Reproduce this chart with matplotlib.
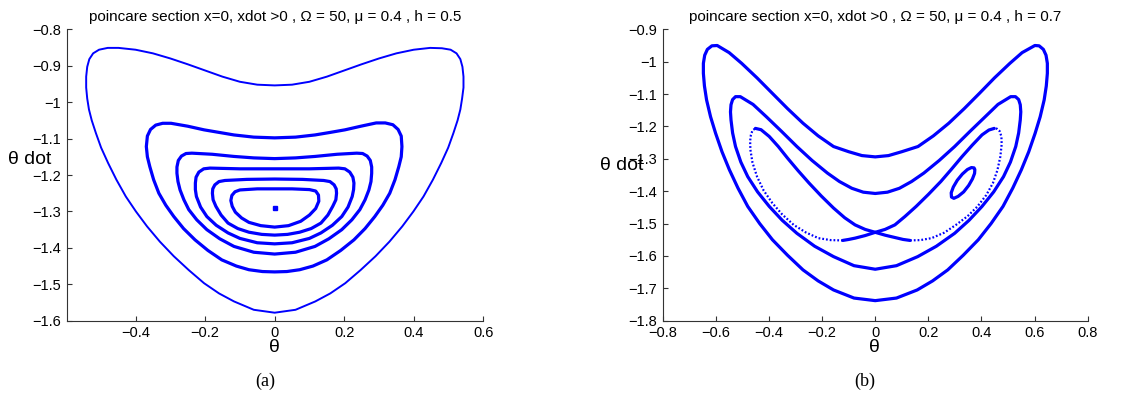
import matplotlib
matplotlib.use("Agg")
import matplotlib.pyplot as plt
from matplotlib.patches import Polygon

# ----------------------------- DATA -------------------
# (a) h = 0.5 : nested closed orbits, outermost first, each listed round the loop
a1_x = [0, -0.05, -0.10, -0.15, -0.20, -0.25, -0.30, -0.35, -0.40, -0.449, -0.48, -0.505, -0.522,
        -0.533, -0.539, -0.542, -0.542, -0.539, -0.534, -0.526, -0.514, -0.499, -0.479, -0.455,
        -0.428, -0.399, -0.367, -0.330, -0.290, -0.247, -0.203, -0.160, -0.117, -0.060, 0,
        0.060, 0.117, 0.160, 0.203, 0.247, 0.290, 0.330, 0.367, 0.399, 0.428, 0.455, 0.479, 0.499,
        0.514, 0.526, 0.534, 0.539, 0.543, 0.543, 0.540, 0.534, 0.523, 0.506, 0.481, 0.447, 0.40,
        0.35, 0.30, 0.25, 0.20, 0.15, 0.10, 0.05]
a1_y = [-0.954, -0.952, -0.944, -0.930, -0.913, -0.896, -0.880, -0.866, -0.856, -0.851, -0.851, -0.856,
        -0.866, -0.882, -0.903, -0.930, -0.960, -0.990, -1.020, -1.050, -1.085, -1.125, -1.167, -1.213,
        -1.259, -1.300, -1.341, -1.383, -1.423, -1.461, -1.497, -1.525, -1.547, -1.570, -1.578,
        -1.570, -1.547, -1.525, -1.497, -1.461, -1.423, -1.383, -1.341, -1.300, -1.259, -1.213, -1.167, -1.125,
        -1.085, -1.050, -1.020, -0.990, -0.960, -0.930, -0.903, -0.882, -0.866, -0.856, -0.852, -0.851, -0.856,
        -0.866, -0.880, -0.896, -0.913, -0.930, -0.944, -0.952]

a2_x = [0, -0.06, -0.117, -0.16, -0.203, -0.25, -0.298, -0.322, -0.342, -0.357, -0.366, -0.369, -0.366,
        -0.359, -0.348, -0.333, -0.313, -0.290, -0.262, -0.229, -0.192, -0.152, -0.110, -0.074, -0.035, 0,
        0.035, 0.072, 0.110, 0.150, 0.190, 0.228, 0.260, 0.288, 0.311, 0.331, 0.346, 0.357, 0.364, 0.366,
        0.364, 0.355, 0.340, 0.318, 0.292, 0.248, 0.202, 0.160, 0.116, 0.06]
a2_y = [-1.098, -1.096, -1.090, -1.083, -1.076, -1.066, -1.058, -1.058, -1.063, -1.075, -1.093, -1.122, -1.150,
        -1.177, -1.213, -1.250, -1.283, -1.314, -1.347, -1.378, -1.407, -1.433, -1.450, -1.460, -1.465, -1.466,
        -1.465, -1.460, -1.450, -1.433, -1.407, -1.378, -1.347, -1.314, -1.283, -1.250, -1.213, -1.177, -1.150, -1.122,
        -1.093, -1.075, -1.062, -1.057, -1.057, -1.066, -1.076, -1.083, -1.090, -1.096]

a3_x = [0, -0.06, -0.117, -0.18, -0.238, -0.255, -0.268, -0.277, -0.281, -0.281, -0.278, -0.272, -0.261,
        -0.247, -0.224, -0.195, -0.158, -0.117, -0.060, 0, 0.060, 0.116, 0.156, 0.193, 0.222, 0.245,
        0.260, 0.271, 0.277, 0.279, 0.279, 0.275, 0.266, 0.253, 0.236, 0.18, 0.116, 0.06]
a3_y = [-1.155, -1.153, -1.149, -1.143, -1.140, -1.141, -1.148, -1.160, -1.178, -1.195, -1.218, -1.241, -1.268,
        -1.295, -1.323, -1.350, -1.375, -1.396, -1.412, -1.417, -1.412, -1.396, -1.375, -1.350, -1.323, -1.295,
        -1.268, -1.241, -1.218, -1.195, -1.178, -1.160, -1.148, -1.141, -1.140, -1.143, -1.149, -1.153]

a4_x = [0, -0.10, -0.186, -0.204, -0.218, -0.226, -0.228, -0.228, -0.225, -0.213, -0.195, -0.168, -0.134,
        -0.100, -0.050, 0, 0.050, 0.100, 0.133, 0.166, 0.193, 0.211, 0.223, 0.227, 0.228, 0.225, 0.216,
        0.202, 0.184, 0.10]
a4_y = [-1.183, -1.183, -1.181, -1.183, -1.192, -1.206, -1.222, -1.240, -1.259, -1.288, -1.314, -1.338, -1.359,
        -1.374, -1.386, -1.389, -1.386, -1.374, -1.359, -1.338, -1.314, -1.288, -1.259, -1.240, -1.222, -1.206, -1.192,
        -1.183, -1.181, -1.183]

a5_x = [0, -0.08, -0.143, -0.160, -0.172, -0.178, -0.179, -0.177, -0.169, -0.154, -0.134, -0.106, -0.074,
        -0.037, 0, 0.037, 0.072, 0.105, 0.133, 0.153, 0.167, 0.176, 0.178, 0.177, 0.171, 0.159, 0.141, 0.08]
a5_y = [-1.211, -1.212, -1.215, -1.218, -1.227, -1.238, -1.250, -1.268, -1.286, -1.310, -1.332, -1.347, -1.357,
        -1.363, -1.365, -1.363, -1.357, -1.347, -1.332, -1.310, -1.286, -1.268, -1.250, -1.238, -1.227, -1.218,
        -1.215, -1.212]

a6_x = [0, -0.05, -0.100, -0.114, -0.123, -0.126, -0.122, -0.113, -0.095, -0.074, -0.040, 0, 0.040, 0.075,
        0.100, 0.118, 0.127, 0.126, 0.118, 0.100, 0.05]
a6_y = [-1.238, -1.238, -1.241, -1.246, -1.256, -1.270, -1.286, -1.302, -1.318, -1.330, -1.339, -1.343, -1.339,
        -1.327, -1.310, -1.292, -1.272, -1.255, -1.244, -1.240, -1.238]

a_fixed_x = [0]
a_fixed_y = [-1.291]

# (b) h = 0.7
b1_x = [0, -0.05, -0.10, -0.157, -0.215, -0.272, -0.33, -0.387, -0.445, -0.503, -0.55, -0.595, -0.615,
        -0.632, -0.642, -0.647, -0.647, -0.643, -0.635, -0.620, -0.601, -0.577, -0.549, -0.517, -0.480,
        -0.435, -0.387, -0.330, -0.272, -0.215, -0.157, -0.080, 0,
        0.080, 0.158, 0.216, 0.273, 0.331, 0.388, 0.436, 0.481, 0.518, 0.550, 0.578, 0.602, 0.621, 0.636,
        0.644, 0.648, 0.648, 0.643, 0.633, 0.617, 0.601, 0.553, 0.507, 0.449, 0.392, 0.335, 0.277, 0.219,
        0.161, 0.10, 0.05]
b1_y = [-1.294, -1.290, -1.278, -1.262, -1.229, -1.190, -1.145, -1.098, -1.050, -1.005, -0.972, -0.950, -0.951,
        -0.962, -0.980, -1.005, -1.036, -1.075, -1.118, -1.170, -1.221, -1.278, -1.334, -1.390, -1.447,
        -1.500, -1.550, -1.598, -1.643, -1.677, -1.705, -1.730, -1.738,
        -1.730, -1.705, -1.677, -1.643, -1.598, -1.550, -1.500, -1.447, -1.390, -1.334, -1.278, -1.221, -1.170, -1.118,
        -1.075, -1.036, -1.005, -0.980, -0.962, -0.951, -0.950, -0.972, -1.005, -1.050, -1.098, -1.145, -1.190, -1.229,
        -1.262, -1.278, -1.290]

b2_x = [0, -0.045, -0.088, -0.135, -0.180, -0.238, -0.295, -0.353, -0.410, -0.460, -0.508, -0.526, -0.537,
        -0.543, -0.545, -0.543, -0.537, -0.526, -0.506, -0.480, -0.443, -0.399, -0.350, -0.295, -0.228,
        -0.157, -0.080, 0,
        0.080, 0.160, 0.230, 0.299, 0.353, 0.402, 0.446, 0.483, 0.509, 0.529, 0.540, 0.546, 0.548, 0.546,
        0.540, 0.528, 0.510, 0.462, 0.414, 0.357, 0.299, 0.241, 0.183, 0.137, 0.091, 0.046]
b2_y = [-1.407, -1.403, -1.391, -1.370, -1.344, -1.305, -1.262, -1.215, -1.170, -1.132, -1.108, -1.108, -1.117,
        -1.133, -1.155, -1.180, -1.220, -1.262, -1.310, -1.355, -1.402, -1.447, -1.490, -1.530, -1.570,
        -1.602, -1.630, -1.641,
        -1.630, -1.602, -1.570, -1.530, -1.490, -1.447, -1.402, -1.355, -1.310, -1.262, -1.220, -1.180, -1.155, -1.133,
        -1.117, -1.108, -1.108, -1.132, -1.170, -1.215, -1.262, -1.305, -1.344, -1.370, -1.391, -1.403]

# figure-eight orbit: solid crossing branches and the sparse outer arcs
b3_cross1_x = [-0.451, -0.430, -0.399, -0.365, -0.330, -0.290, -0.249, -0.203, -0.157, -0.115, -0.076,
               -0.038, 0, 0.038, 0.074, 0.105, 0.131]
b3_cross1_y = [-1.206, -1.210, -1.231, -1.262, -1.298, -1.337, -1.375, -1.415, -1.452, -1.482, -1.504,
               -1.518, -1.527, -1.536, -1.543, -1.549, -1.552]
b3_right_x = [0.131, 0.170, 0.212, 0.260, 0.304, 0.348, 0.385, 0.418, 0.443, 0.460, 0.471, 0.476, 0.475,
              0.468, 0.458, 0.448]
b3_right_y = [-1.552, -1.551, -1.545, -1.528, -1.504, -1.477, -1.447, -1.412, -1.375, -1.335, -1.293, -1.255,
              -1.231, -1.214, -1.207, -1.206]
b3_cross2_x = [0.448, 0.428, 0.402, 0.365, 0.327, 0.287, 0.247, 0.200, 0.154, 0.112, 0.074, 0.037, 0,
               -0.038, -0.076, -0.100, -0.122]
b3_cross2_y = [-1.206, -1.211, -1.226, -1.258, -1.293, -1.332, -1.370, -1.410, -1.447, -1.478, -1.504, -1.518,
               -1.527, -1.537, -1.545, -1.549, -1.552]
b3_left_x = [-0.122, -0.168, -0.214, -0.262, -0.307, -0.350, -0.387, -0.420, -0.445, -0.462, -0.470, -0.471,
             -0.468, -0.462, -0.451]
b3_left_y = [-1.552, -1.551, -1.545, -1.527, -1.504, -1.472, -1.437, -1.398, -1.355, -1.312, -1.272, -1.245,
             -1.226, -1.212, -1.206]

b4_x = [0.375, 0.374, 0.366, 0.352, 0.333, 0.312, 0.296, 0.287, 0.286, 0.294, 0.309, 0.328, 0.347, 0.362,
        0.372]
b4_y = [-1.333, -1.345, -1.362, -1.382, -1.402, -1.416, -1.422, -1.418, -1.405, -1.387, -1.366, -1.347, -1.333,
        -1.327, -1.328]

a_yticks = [-1.6, -1.5, -1.4, -1.3, -1.2, -1.1, -1.0, -0.9, -0.8]
a_ylabels = ['\u22121.6', '\u22121.5', '\u22121.4', '\u22121.3', '\u22121.2', '\u22121.1', '\u22121', '\u22120.9', '\u22120.8']
a_xticks = [-0.4, -0.2, 0, 0.2, 0.4, 0.6]
a_xlabels = ['\u22120.4', '\u22120.2', '0', '0.2', '0.4', '0.6']
b_yticks = [-1.8, -1.7, -1.6, -1.5, -1.4, -1.3, -1.2, -1.1, -1.0, -0.9]
b_ylabels = ['\u22121.8', '\u22121.7', '\u22121.6', '\u22121.5', '\u22121.4', '\u22121.3', '\u22121.2', '\u22121.1', '\u22121', '\u22120.9']
b_xticks = [-0.8, -0.6, -0.4, -0.2, 0, 0.2, 0.4, 0.6, 0.8]
b_xlabels = ['\u22120.8', '\u22120.6', '\u22120.4', '\u22120.2', '0', '0.2', '0.4', '0.6', '0.8']

# ------------------------------ PLOTTING -------------------------------------
plt.rcParams['font.family'] = ['Liberation Sans', 'DejaVu Sans']
blue = '#0000ff'


def loop(ax, xs, ys, lw):
    # closed orbit drawn as an unfilled polygon so the seam has a clean join
    ax.add_patch(Polygon(list(zip(xs, ys)), closed=True, fill=False, edgecolor=blue,
                         lw=lw, joinstyle='round'))


fig = plt.figure(figsize=(11.48, 3.94), dpi=100)
ax1 = fig.add_axes([0.0581, 0.186, 0.3629, 0.7396])
ax2 = fig.add_axes([0.5773, 0.186, 0.3702, 0.7396])

loop(ax1, a1_x, a1_y, 1.4)
for cx, cy in [(a2_x, a2_y), (a3_x, a3_y), (a4_x, a4_y), (a5_x, a5_y), (a6_x, a6_y)]:
    loop(ax1, cx, cy, 2.3)
ax1.plot(a_fixed_x, a_fixed_y, 's', color=blue, ms=2.2)

for cx, cy in [(b1_x, b1_y), (b2_x, b2_y), (b4_x, b4_y)]:
    loop(ax2, cx, cy, 2.3)
for cx, cy in [(b3_cross1_x, b3_cross1_y), (b3_cross2_x, b3_cross2_y)]:
    ax2.plot(cx, cy, color=blue, lw=2.3, solid_joinstyle='round', solid_capstyle='round')
for cx, cy in [(b3_right_x, b3_right_y), (b3_left_x, b3_left_y)]:
    ax2.plot(cx, cy, color=blue, lw=1.6, ls=(0, (0.8, 0.9)))

ax1.set_xlim(-0.598, 0.6)
ax1.set_ylim(-1.6, -0.8)
ax1.set_xticks(a_xticks, a_xlabels)
ax1.set_yticks(a_yticks, a_ylabels)
ax2.set_xlim(-0.8, 0.8)
ax2.set_ylim(-1.8, -0.9)
ax2.set_xticks(b_xticks, b_xlabels)
ax2.set_yticks(b_yticks, b_ylabels)

for ax in (ax1, ax2):
    ax.spines['top'].set_visible(False)
    ax.spines['right'].set_visible(False)
    for s in ('left', 'bottom'):
        ax.spines[s].set_color('#333333')
        ax.spines[s].set_linewidth(0.8)
    ax.tick_params(direction='in', length=3.5, width=0.8, color='#333333', labelsize=10.5, pad=4)

ax1.set_title('poincare section x=0, xdot >0 , \u03a9 = 50, \u03bc = 0.4 , h = 0.5', fontsize=11, pad=6)
ax2.set_title('poincare section x=0, xdot >0 , \u03a9 = 50, \u03bc = 0.4 , h = 0.7', fontsize=11, pad=6)

fig.text(0.026, 0.594, '\u03b8 dot', fontsize=14, ha='center', va='center')
fig.text(0.5418, 0.579, '\u03b8 dot', fontsize=14, ha='center', va='center')
fig.text(0.2393, 0.1168, '\u03b8', fontsize=14, ha='center', va='center')
fig.text(0.7620, 0.1168, '\u03b8', fontsize=14, ha='center', va='center')
fig.text(0.2313, 0.033, '(a)', fontsize=13, family='Liberation Serif', ha='center', va='center')
fig.text(0.7535, 0.033, '(b)', fontsize=13, family='Liberation Serif', ha='center', va='center')

fig.savefig('out.png', dpi=100)
